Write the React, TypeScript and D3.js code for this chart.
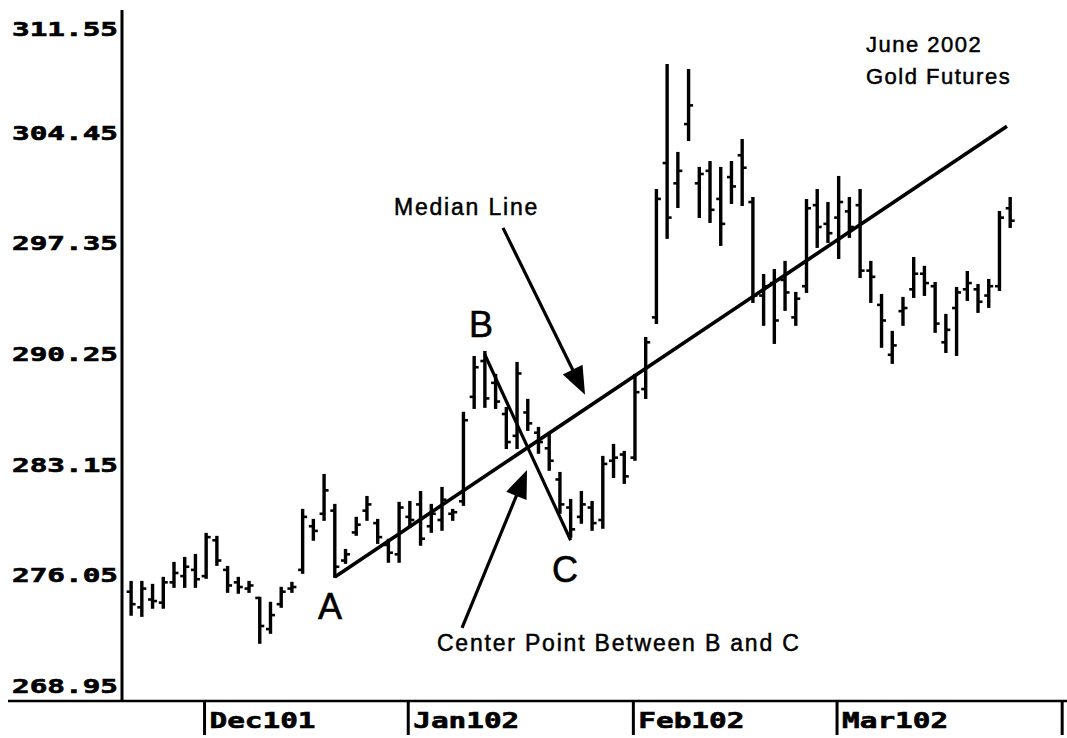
import React from "react";
import * as d3 from "d3";

// ---- Data (June 2002 Gold Futures, daily OHLC, late Nov 2001 – Mar 2002) ----
const highs = [
  275.63, 275.63, 275.44, 275.89, 276.85, 277.17, 277.36, 278.71, 278.52, 276.59,
  275.89, 275.63, 274.61, 274.29, 275.25, 275.57, 280.25, 279.61, 282.49, 280.57,
  277.68, 279.74, 281.08, 279.61, 278.33, 280.70, 280.76, 281.40, 280.57, 281.66,
  280.25, 286.48, 290.06, 290.38, 288.91, 286.79, 289.68, 287.31, 285.51, 285.19,
  282.62, 280.89, 281.40, 280.76, 283.65, 284.42, 283.97, 288.91, 291.28, 300.77,
  308.79, 303.15, 308.47, 302.19, 302.57, 302.19, 302.57, 303.98, 300.26, 295.32,
  295.64, 296.16, 294.17, 300.13, 300.77, 299.94, 301.61, 300.26, 300.77, 296.16,
  294.04, 291.67, 293.85, 296.41, 295.84, 294.81, 292.76, 294.49, 295.51, 294.68,
  295.00, 299.36, 300.26,
];
const lows = [
  273.52, 273.45, 273.97, 273.97, 275.31, 275.31, 275.31, 275.89, 276.72, 274.99,
  274.93, 274.99, 271.72, 272.36, 274.03, 274.99, 276.21, 278.33, 279.61, 275.95,
  276.85, 278.65, 279.61, 278.13, 276.92, 276.92, 279.16, 278.01, 278.84, 278.97,
  279.61, 280.57, 286.79, 286.86, 286.79, 284.22, 284.22, 285.38, 283.91, 282.82,
  280.06, 278.52, 279.42, 278.97, 279.10, 282.36, 281.98, 283.46, 287.43, 292.24,
  297.70, 299.68, 303.98, 299.04, 298.72, 297.25, 299.94, 299.81, 293.59, 292.12,
  290.96, 293.08, 292.12, 294.23, 297.12, 297.44, 296.41, 297.76, 295.19, 293.59,
  290.71, 289.68, 292.12, 293.91, 294.04, 291.67, 290.38, 290.19, 293.72, 292.95,
  293.27, 294.36, 298.40,
];
const opens = [
  275.0, 274.0, 274.5, 274.3, 275.6, 276.0, 276.4, 276.0, 278.3, 276.4,
  275.6, 275.2, 274.6, 272.6, 274.2, 275.2, 276.4, 279.2, 280.0, 280.2,
  277.0, 278.8, 280.2, 279.4, 278.0, 277.4, 279.8, 280.6, 279.2, 279.6,
  280.0, 280.8, 287.5, 289.8, 288.4, 286.4, 285.0, 286.5, 285.2, 284.2,
  282.2, 280.4, 279.8, 280.4, 279.6, 283.4, 283.8, 283.6, 288.0, 292.6,
  302.5, 301.2, 305.0, 301.2, 302.0, 300.2, 301.6, 303.0, 300.0, 294.0,
  294.8, 295.0, 292.6, 294.6, 299.8, 298.6, 299.0, 299.4, 299.8, 295.6,
  293.4, 290.2, 293.0, 294.4, 295.4, 294.6, 291.0, 293.2, 294.4, 294.4,
  294.0, 294.6, 299.6,
];
const closes = [
  274.2, 275.2, 274.4, 275.6, 276.2, 276.6, 275.8, 278.5, 277.0, 275.4,
  275.3, 275.4, 272.8, 273.5, 275.0, 275.3, 279.8, 278.9, 281.5, 276.6,
  277.4, 279.3, 280.6, 278.5, 277.5, 280.4, 279.6, 278.4, 280.0, 280.9,
  280.1, 286.0, 289.4, 287.4, 287.2, 284.6, 289.0, 285.8, 284.6, 283.4,
  280.6, 279.0, 280.6, 279.4, 283.2, 283.6, 282.4, 287.8, 291.0, 300.2,
  299.0, 302.0, 306.2, 301.8, 299.5, 298.6, 301.0, 302.2, 294.0, 294.6,
  292.4, 294.2, 293.8, 299.6, 298.4, 298.0, 300.0, 298.4, 295.6, 295.2,
  292.4, 290.8, 293.2, 295.4, 294.8, 292.2, 291.8, 294.2, 294.8, 293.6,
  294.6, 299.0, 298.8,
];

const yTickValues = [311.55, 304.45, 297.35, 290.25, 283.15, 276.05, 268.95];
const monthLabels = ["Dec101", "Jan102", "Feb102", "Mar102", ""];
const monthStartIndex = [7, 26, 47, 66, 87];

// Median-line pivots (bar index, price)
const pivotIndex = [19, 33, 41]; // A, B, C
const pivotPrice = [275.95, 290.2, 278.3];
const pivotNames = ["A", "B", "C"];
const medianEndIndex = 81.7;

// Annotations in data units
const arrowTails = [
  [34.69, 298.34],
  [30.87, 272.68],
];
const arrowTips = [
  [42.34, 287.63],
  [36.93, 282.81],
];
const noteTexts = ["Median Line", "Center Point Between B and C", "June 2002", "Gold Futures"];
const notePos = [
  [24.52, 299.17],
  [28.53, 271.2],
  [68.55, 309.63],
  [68.55, 307.57],
];
const pivotLabelPos = [
  [18.55, 273.26],
  [32.64, 291.35],
  [40.48, 275.63],
];

const W = 1067;
const H = 738;

export default function App() {
  const x = d3.scaleLinear().domain([-0.85, 87.3]).range([122, 1067]);
  const y = d3.scaleLinear().domain([268.95, 311.55]).range([686, 22]);

  const axisFont = "'DejaVu Sans Mono', monospace";
  const noteFont = "'Liberation Sans', Arial, sans-serif";

  // Median line
  const midI = (pivotIndex[1] + pivotIndex[2]) / 2;
  const midP = (pivotPrice[1] + pivotPrice[2]) / 2;
  const slope = (midP - pivotPrice[0]) / (midI - pivotIndex[0]);
  const endP = pivotPrice[0] + slope * (medianEndIndex - pivotIndex[0]);
  const line = d3.line<[number, number]>().x((d) => x(d[0])).y((d) => y(d[1]));
  const medianPath = line([
    [pivotIndex[0], pivotPrice[0]],
    [medianEndIndex, endP],
  ]);
  const bcPath = line([
    [pivotIndex[1], pivotPrice[1]],
    [pivotIndex[2], pivotPrice[2]],
  ]);

  const arrow = (k: number) => {
    const x1 = x(arrowTails[k][0]);
    const y1 = y(arrowTails[k][1]);
    const x2 = x(arrowTips[k][0]);
    const y2 = y(arrowTips[k][1]);
    const dx = x2 - x1;
    const dy = y2 - y1;
    const len = Math.hypot(dx, dy);
    const ux = dx / len;
    const uy = dy / len;
    const hl = 28;
    const hw = 11;
    const bx = x2 - ux * hl;
    const by = y2 - uy * hl;
    const pts = [
      [x2, y2],
      [bx - uy * hw, by + ux * hw],
      [bx + uy * hw, by - ux * hw],
    ];
    return (
      <g key={"arrow" + k}>
        <line x1={x1} y1={y1} x2={bx + ux * 4} y2={by + uy * 4} stroke="#000" strokeWidth={3.2} />
        <polygon points={pts.map((p) => p.join(",")).join(" ")} fill="#000" />
      </g>
    );
  };

  return (
    <svg
      width={W}
      height={H}
      style={{ position: "absolute", left: 0, top: 0, background: "#fff" }}
    >
      <rect x={0} y={0} width={W} height={H} fill="#fff" />

      {/* Axes */}
      <line x1={122} y1={10} x2={122} y2={701} stroke="#000" strokeWidth={3} />
      <line x1={8} y1={701} x2={W} y2={701} stroke="#000" strokeWidth={2.5} />

      {/* Y labels */}
      {yTickValues.map((v) => (
        <text
          key={v}
          x={12}
          y={Math.max(y(v) + 7, 36)}
          fontFamily={axisFont}
          fontWeight="bold"
          fontSize={19}
          textLength={106}
          lengthAdjust="spacingAndGlyphs"
          fill="#000"
          stroke="#000"
          strokeWidth={0.6}
        >
          {v.toFixed(2)}
        </text>
      ))}

      {/* Month ticks & labels */}
      {monthLabels.map((m, k) => {
        const tx = x(monthStartIndex[k] - 0.15);
        return (
          <g key={"m" + k}>
            <line x1={tx} y1={701} x2={tx} y2={735} stroke="#000" strokeWidth={3} />
            {m && (
              <text
                x={tx + 5}
                y={728}
                fontFamily={axisFont}
                fontWeight="bold"
                fontSize={21}
                textLength={106}
                lengthAdjust="spacingAndGlyphs"
                fill="#000"
                stroke="#000"
                strokeWidth={0.6}
              >
                {m}
              </text>
            )}
          </g>
        );
      })}

      {/* OHLC bars */}
      {highs.map((h, i) => {
        const cx = x(i);
        return (
          <g key={i}>
            <line x1={cx} y1={y(h) - 1} x2={cx} y2={y(lows[i]) + 1} stroke="#000" strokeWidth={3.4} />
            <line x1={cx - 4.5} y1={y(opens[i])} x2={cx} y2={y(opens[i])} stroke="#000" strokeWidth={2.6} />
            <line x1={cx} y1={y(closes[i])} x2={cx + 4.5} y2={y(closes[i])} stroke="#000" strokeWidth={2.6} />
          </g>
        );
      })}

      {/* Median line and B-C line */}
      <path d={medianPath || ""} stroke="#000" strokeWidth={3.6} fill="none" />
      <path d={bcPath || ""} stroke="#000" strokeWidth={3.2} fill="none" />

      {/* Arrows */}
      {arrowTails.map((_, k) => arrow(k))}

      {/* Notes */}
      {noteTexts.map((t, k) => (
        <text
          key={t}
          x={x(notePos[k][0])}
          y={y(notePos[k][1])}
          fontFamily={noteFont}
          fontSize={k >= 2 ? 22 : 23}
          letterSpacing={k >= 2 ? 1.5 : 1.8}
          fill="#000"
          stroke="#000"
          strokeWidth={0.5}
        >
          {t}
        </text>
      ))}

      {/* Pivot letters */}
      {pivotNames.map((n, k) => (
        <text
          key={n}
          x={x(pivotLabelPos[k][0])}
          y={y(pivotLabelPos[k][1])}
          textAnchor="middle"
          fontFamily={noteFont}
          fontSize={36}
          fill="#000"
          stroke="#000"
          strokeWidth={0.6}
        >
          {n}
        </text>
      ))}
    </svg>
  );
}
